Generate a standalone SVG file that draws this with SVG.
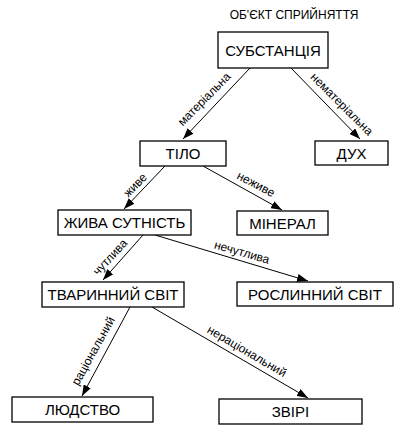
<svg xmlns="http://www.w3.org/2000/svg" width="396" height="425" viewBox="0 0 396 425">
<style>
.box{fill:#fff;stroke:#000;stroke-width:1.3}
.t{font-family:"Liberation Sans",Arial,sans-serif;font-size:15px;fill:#000;text-anchor:middle}
.title{font-family:"Liberation Sans",Arial,sans-serif;font-size:12px;fill:#000;text-anchor:middle}
.lbl{font-family:"Liberation Sans",Arial,sans-serif;font-size:12px;fill:#000;text-anchor:middle}
.e{stroke:#000;stroke-width:1;fill:none;marker-end:url(#arr)}
</style>
<defs>
<marker id="arr" markerUnits="userSpaceOnUse" markerWidth="11" markerHeight="8" refX="11" refY="4" orient="auto">
<path d="M0,0 L11,4 L0,8 z" fill="#000"/>
</marker>
</defs>
<text class="title" x="294" y="19">ОБ'ЄКТ СПРИЙНЯТТЯ</text>
<g id="connectors">
<line class="e" x1="250" y1="68" x2="183" y2="139"/>
<line class="e" x1="291" y1="68" x2="360" y2="139"/>
<line class="e" x1="165" y1="166" x2="124" y2="209"/>
<line class="e" x1="203" y1="166" x2="282" y2="210"/>
<line class="e" x1="143" y1="235" x2="103" y2="280"/>
<line class="e" x1="155" y1="235" x2="308" y2="281"/>
<line class="e" x1="130" y1="307" x2="82" y2="396"/>
<line class="e" x1="152" y1="307" x2="308" y2="398"/>
<text class="lbl" transform="translate(204,99) rotate(-45.4)" dy="0.35em">матеріальна</text>
<text class="lbl" transform="translate(342,104) rotate(45)" dy="0.35em">нематеріальна</text>
<text class="lbl" transform="translate(135,185) rotate(-46)" dy="0.35em">живе</text>
<text class="lbl" transform="translate(256,184) rotate(28)" dy="0.35em">неживе</text>
<text class="lbl" transform="translate(110,257) rotate(-47)" dy="0.35em">чутлива</text>
<text class="lbl" transform="translate(242,252) rotate(16)" dy="0.35em">нечутлива</text>
<text class="lbl" transform="translate(93,351) rotate(-61)" dy="0.35em">раціональний</text>
<text class="lbl" transform="translate(247,351) rotate(30.5)" dy="0.35em">нераціональний</text>
</g>
<g id="n-substance"><rect class="box" x="218" y="32" width="110" height="36"/><text class="t" x="273" y="55.5">СУБСТАНЦІЯ</text></g>
<g id="n-tilo"><rect class="box" x="140" y="141" width="86" height="25"/><text class="t" x="183" y="159">ТІЛО</text></g>
<g id="n-dukh"><rect class="box" x="315" y="141" width="73" height="24"/><text class="t" x="351.5" y="158.5">ДУХ</text></g>
<g id="n-zhyva"><rect class="box" x="58" y="210" width="133" height="25"/><text class="t" x="124.5" y="228">ЖИВА СУТНІСТЬ</text></g>
<g id="n-mineral"><rect class="box" x="237" y="211" width="91" height="24"/><text class="t" x="282.5" y="228.5">МІНЕРАЛ</text></g>
<g id="n-tvaryn"><rect class="box" x="42" y="282" width="142" height="25"/><text class="t" x="113" y="300">ТВАРИННИЙ СВІТ</text></g>
<g id="n-roslyn"><rect class="box" x="237" y="282" width="156" height="24"/><text class="t" x="315" y="299.5">РОСЛИННИЙ СВІТ</text></g>
<g id="n-lyudstvo"><rect class="box" x="12" y="397" width="141" height="25"/><text class="t" x="82.5" y="415">ЛЮДСТВО</text></g>
<g id="n-zviri"><rect class="box" x="219" y="399" width="143" height="25"/><text class="t" x="290.5" y="417">ЗВІРІ</text></g>
</svg>
